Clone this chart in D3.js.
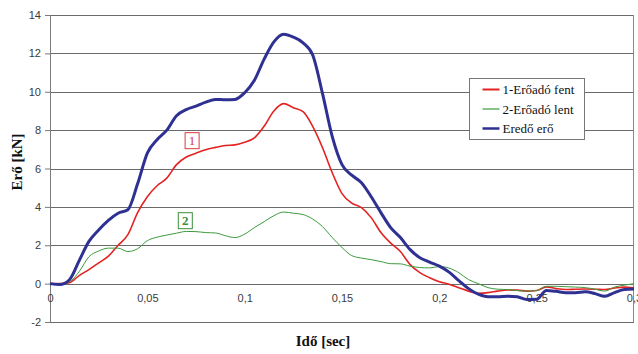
<!DOCTYPE html>
<html>

<head>
  <meta charset="utf-8">
  <title>Erő - idő</title>
  <style>
    body { margin: 0; background: #fff; }
    svg { display: block; }
    .serif { font-family: 'Liberation Serif', 'DejaVu Serif', 'Times New Roman', serif; }
    .sans { font-family: 'Liberation Sans', Arial, sans-serif; }
  </style>
</head>

<body>

  <svg id="main" width="638" height="354"></svg>

  <script src="https://cdn.jsdelivr.net/npm/d3@7"></script>
  <script>

    // time samples [sec]
    const times = [
      0, 0.005, 0.01, 0.015, 0.02, 0.025, 0.03, 0.035, 0.04, 0.045,
      0.05, 0.055, 0.06, 0.065, 0.07, 0.075, 0.08, 0.085, 0.09, 0.095,
      0.1, 0.105, 0.11, 0.115, 0.12, 0.125, 0.13, 0.135, 0.14, 0.145,
      0.15, 0.155, 0.16, 0.165, 0.17, 0.175, 0.18, 0.185, 0.19, 0.195,
      0.2, 0.205, 0.21, 0.215, 0.22, 0.225, 0.23, 0.235, 0.24, 0.245,
      0.25, 0.255, 0.26, 0.265, 0.27, 0.275, 0.28, 0.285, 0.29, 0.295, 0.3
    ]

    // 1-Erőadó fent [kN]
    const fent = [
      0, 0, 0.05, 0.42, 0.73, 1.08, 1.43, 2.0, 2.55, 3.7,
      4.53, 5.1, 5.5, 6.2, 6.6, 6.8, 6.98, 7.1, 7.2, 7.23,
      7.37, 7.6, 8.2, 9.0, 9.38, 9.17, 8.96, 8.18, 7.08, 5.78,
      4.69, 4.2, 3.96, 3.44, 2.66, 2.11, 1.67, 0.99, 0.57, 0.31,
      0.1, -0.03, -0.21, -0.39, -0.5, -0.47, -0.39, -0.33, -0.34, -0.39,
      -0.36, -0.17, -0.26, -0.31, -0.29, -0.28, -0.29, -0.31, -0.23, -0.18, -0.22
    ]

    // 2-Erőadó lent [kN]
    const lent = [
      0, 0, 0.1, 0.63, 1.4, 1.7, 1.85, 1.85, 1.67, 1.82,
      2.24, 2.42, 2.53, 2.63, 2.72, 2.71, 2.66, 2.64, 2.5, 2.4,
      2.58, 2.92, 3.23, 3.54, 3.73, 3.67, 3.6, 3.36, 2.97, 2.4,
      1.88, 1.46, 1.33, 1.25, 1.15, 1.04, 1.03, 0.91, 0.84, 0.82,
      0.89, 0.81, 0.57, 0.21, 0, -0.21, -0.29, -0.31, -0.36, -0.39,
      -0.36, -0.14, -0.14, -0.16, -0.18, -0.21, -0.29, -0.39, -0.18, -0.08, 0
    ]

    // Eredő erő [kN]
    const eredo = [
      0, -0.05, 0.2, 1.2, 2.2, 2.8, 3.3, 3.67, 3.85, 5.2,
      6.8, 7.5, 8.0, 8.75, 9.07, 9.25, 9.46, 9.6, 9.58, 9.6,
      9.95, 10.6, 11.7, 12.6, 13.0, 12.85, 12.55, 11.9, 9.9, 7.66,
      6.2, 5.65, 5.26, 4.53, 3.7, 2.92, 2.4, 1.77, 1.35, 1.12,
      0.91, 0.6, 0.16, -0.26, -0.55, -0.68, -0.68, -0.66, -0.69, -0.83,
      -0.81, -0.36, -0.4, -0.47, -0.47, -0.42, -0.52, -0.66, -0.47, -0.31, -0.28
    ]

    const yTicks = [-2, 0, 2, 4, 6, 8, 10, 12, 14]
    const xTicks = [0, 0.05, 0.1, 0.15, 0.2, 0.25, 0.3]

    const seriesNames = ['1-Erőadó fent', '2-Erőadó lent', 'Eredő erő']
    const seriesColors = ['#e32222', '#3c9a3c', '#2f3192']
    const seriesWidths = [1.6, 1, 3]
    const seriesValues = [fent, lent, eredo]

    // boxed markers in the plot: label, t, value
    const markers = [
      { label: '1', t: 0.073, v: 7.45, color: '#d83a3a', bold: false },
      { label: '2', t: 0.0695, v: 3.28, color: '#3a8f3a', bold: true }
    ]

    const svg = d3.select('#main')
    const width = +svg.attr('width')
    const height = +svg.attr('height')
    const margin = { top: 15, right: 4, bottom: 32, left: 50 }
    const innerWidth = width - margin.left - margin.right
    const innerHeight = height - margin.top - margin.bottom

    const chart = svg.append('g')
      .attr('transform', `translate(${margin.left},${margin.top})`)

    const xScale = d3.scaleLinear()
      .domain([0, 0.3])
      .range([0, innerWidth])

    const yScale = d3.scaleLinear()
      .domain([-2, 14])
      .range([innerHeight, 0])

    const fmt = d => String(d).replace('.', ',')

    // grid lines
    chart.append('g')
      .selectAll('line')
      .data(yTicks)
      .join('line')
      .attr('x1', 0)
      .attr('x2', innerWidth)
      .attr('y1', d => Math.round(yScale(d)) + 0.5)
      .attr('y2', d => Math.round(yScale(d)) + 0.5)
      .attr('stroke', '#6a6a6a')
      .attr('stroke-width', 1)

    // right border
    chart.append('line')
      .attr('x1', innerWidth - 0.5).attr('x2', innerWidth - 0.5)
      .attr('y1', 0).attr('y2', innerHeight)
      .attr('stroke', '#8a8a8a')

    // y axis
    const yAxis = d3.axisLeft(yScale)
      .tickValues(yTicks)
      .tickSize(5)
      .tickPadding(4)
      .tickFormat(fmt)

    const yG = chart.append('g').call(yAxis)
    yG.attr('font-family', null)
    yG.select('.domain').attr('stroke', '#7a7a7a')
    yG.selectAll('.tick line').attr('stroke', '#7a7a7a')
    yG.selectAll('.tick text')
      .attr('class', 'sans')
      .attr('font-size', '11px')
      .attr('fill', '#3a3a3a')

    // x axis along zero
    const xAxis = d3.axisBottom(xScale)
      .tickValues(xTicks)
      .tickSize(0)
      .tickPadding(11)
      .tickFormat(fmt)

    const xG = chart.append('g')
      .attr('transform', `translate(0,${yScale(0)})`)
      .call(xAxis)
    xG.attr('font-family', null)
    xG.select('.domain').remove()
    xG.selectAll('.tick text')
      .attr('class', 'sans')
      .attr('font-size', '11px')
      .attr('fill', '#3a3a3a')

    // series lines
    const line = d3.line()
      .x((d, i) => xScale(times[i]))
      .y(d => yScale(d))
      .curve(d3.curveMonotoneX)

    seriesValues.forEach((vals, i) => {
      chart.append('path')
        .datum(vals)
        .attr('fill', 'none')
        .attr('stroke', seriesColors[i])
        .attr('stroke-width', seriesWidths[i])
        .attr('stroke-linejoin', 'round')
        .attr('d', line)
    })

    // boxed markers
    markers.forEach(m => {
      const g = chart.append('g')
        .attr('transform', `translate(${xScale(m.t)},${yScale(m.v)})`)
      g.append('rect')
        .attr('x', -7).attr('y', -8)
        .attr('width', 14).attr('height', 16)
        .attr('fill', '#fff')
        .attr('stroke', m.color)
        .attr('stroke-width', 1)
      g.append('text')
        .text(m.label)
        .attr('class', 'serif')
        .attr('text-anchor', 'middle')
        .attr('dy', '0.36em')
        .attr('font-size', '13px')
        .attr('font-weight', m.bold ? 'bold' : 'normal')
        .attr('fill', m.color)
    })

    // legend
    const legend = svg.append('g')
      .attr('transform', 'translate(469.5,78.5)')

    legend.append('rect')
      .attr('width', 115)
      .attr('height', 61)
      .attr('fill', '#fff')
      .attr('stroke', '#777')

    seriesNames.forEach((name, i) => {
      const y = 11 + i * 19.5
      legend.append('line')
        .attr('x1', 13).attr('x2', 30)
        .attr('y1', y).attr('y2', y)
        .attr('stroke', seriesColors[i])
        .attr('stroke-width', i === 2 ? 2.5 : (i === 0 ? 2 : 1.2))
      legend.append('text')
        .text(name)
        .attr('class', 'serif')
        .attr('x', 33)
        .attr('y', y)
        .attr('dy', '0.35em')
        .attr('font-size', '13px')
        .attr('fill', '#111')
    })

    // axis titles
    svg.append('text')
      .text('Erő [kN]')
      .attr('class', 'serif')
      .attr('transform', 'translate(22,162) rotate(-90)')
      .attr('text-anchor', 'middle')
      .attr('font-size', '15px')
      .attr('font-weight', 'bold')
      .attr('fill', '#111')

    svg.append('text')
      .text('Idő [sec]')
      .attr('class', 'serif')
      .attr('x', 323)
      .attr('y', 346)
      .attr('text-anchor', 'middle')
      .attr('font-size', '15px')
      .attr('font-weight', 'bold')
      .attr('fill', '#111')

  </script>
</body>

</html>
